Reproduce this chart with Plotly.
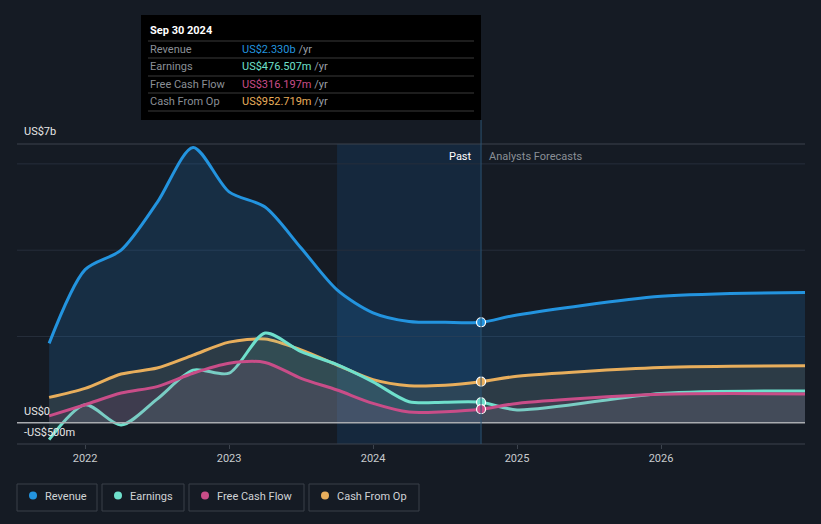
import plotly.graph_objects as go

# ---------------- data ----------------
past_x = [2021.75, 2022.0, 2022.25, 2022.5, 2022.75, 2023.0, 2023.25, 2023.5,
          2023.75, 2024.0, 2024.25, 2024.5, 2024.75]
fc_x = [2024.75, 2025.0, 2026.0, 2027.0]

revenue_past = [1.84, 3.55, 4.0, 5.1, 6.38, 5.35, 5.0, 4.05, 3.08, 2.55, 2.35, 2.33, 2.33]
revenue_fc = [2.33, 2.50, 2.93, 3.02]
earnings_past = [-0.39, 0.42, -0.05, 0.55, 1.22, 1.15, 2.08, 1.65, 1.35, 0.95, 0.49, 0.48, 0.477]
earnings_fc = [0.477, 0.30, 0.68, 0.74]
fcf_past = [0.16, 0.42, 0.69, 0.84, 1.15, 1.38, 1.40, 1.03, 0.76, 0.45, 0.25, 0.26, 0.316]
fcf_fc = [0.316, 0.45, 0.66, 0.67]
cfo_past = [0.59, 0.80, 1.13, 1.27, 1.57, 1.87, 1.94, 1.69, 1.34, 1.0, 0.86, 0.87, 0.953]
cfo_fc = [0.953, 1.08, 1.28, 1.32]

series_names = ["Revenue", "Earnings", "Free Cash Flow", "Cash From Op"]
tooltip_values = ["US$2.330b", "US$476.507m", "US$316.197m", "US$952.719m"]
tooltip_date = "Sep 30 2024"
year_ticks = [2022, 2023, 2024, 2025, 2026]
grid_vals = [2, 4, 6]

# ---------------- style ----------------
BG = "#151b24"
COLORS = {"Revenue": "#2394df", "Earnings": "#6fe0cc", "Free Cash Flow": "#c94d88",
          "Cash From Op": "#e8ae5c"}
FILLS = {"Revenue": "rgba(33,140,230,0.17)", "Earnings": "rgba(110,224,205,0.10)",
         "Free Cash Flow": "rgba(201,77,136,0.12)", "Cash From Op": "rgba(232,174,92,0.10)"}
FONT = "Roboto"

W, H = 821, 524
L, R, T, B = 17, 805, 144, 444
XR = [2021.527, 2027.0]
YR = [-0.49, 6.46]


def px(xp):
    return (xp - L) / (R - L)


def py(yp):
    return (B - yp) / (B - T)


fig = go.Figure()

data = {
    "Revenue": (revenue_past, revenue_fc),
    "Cash From Op": (cfo_past, cfo_fc),
    "Earnings": (earnings_past, earnings_fc),
    "Free Cash Flow": (fcf_past, fcf_fc),
}
for name, (pv, fv) in data.items():
    xs = past_x + fc_x[1:]
    ys = pv + fv[1:]
    fig.add_trace(go.Scatter(
        x=xs, y=ys, mode="lines", line=dict(color=COLORS[name], width=3, shape="spline", smoothing=0.8),
        fill="tozeroy", fillcolor=FILLS[name], hoverinfo="skip", showlegend=False))

# markers at the tooltip date
for name, (pv, fv) in data.items():
    fig.add_trace(go.Scatter(
        x=[past_x[-1]], y=[pv[-1]], mode="markers",
        marker=dict(color=COLORS[name], size=9, line=dict(color="white", width=1.2)),
        hoverinfo="skip", showlegend=False))

shapes = []
# past highlight
shapes.append(dict(type="rect", xref="x", yref="paper", x0=2023.75, x1=2024.75, y0=0, y1=1,
                   fillcolor="rgba(25,118,210,0.15)", line=dict(width=0), layer="below"))
# grid lines
for g in grid_vals:
    shapes.append(dict(type="line", xref="paper", yref="y", x0=0, x1=1, y0=g, y1=g,
                       line=dict(color="#262e3a", width=1), layer="below"))
# top line
shapes.append(dict(type="line", xref="paper", yref="paper", x0=0, x1=1, y0=1, y1=1,
                   line=dict(color="#3c434d", width=1), layer="below"))
# zero line
shapes.append(dict(type="line", xref="paper", yref="y", x0=0, x1=1, y0=0, y1=0,
                   line=dict(color="#a9acb0", width=1.5)))
# bottom line
shapes.append(dict(type="line", xref="paper", yref="paper", x0=0, x1=1, y0=0, y1=0,
                   line=dict(color="#3c434d", width=1)))
# vertical tooltip line
shapes.append(dict(type="line", xref="x", yref="paper", x0=2024.75, x1=2024.75, y0=0, y1=py(120),
                   line=dict(color="#2b5272", width=1)))
# tooltip box
shapes.append(dict(type="rect", xref="paper", yref="paper", x0=px(141), x1=px(481),
                   y0=py(120), y1=py(15), fillcolor="#000000", line=dict(width=0)))
for yy in [41, 58, 76, 93, 111]:
    shapes.append(dict(type="line", xref="paper", yref="paper", x0=px(148), x1=px(474),
                       y0=py(yy), y1=py(yy), line=dict(color="#3a3a3a", width=1)))

annotations = []
annotations.append(dict(xref="paper", yref="paper", x=px(148), y=py(31), text=f"<b>{tooltip_date}</b>",
                        showarrow=False, xanchor="left", yanchor="middle",
                        font=dict(color="#ffffff", size=11, family=FONT)))
for i, (nm, val) in enumerate(zip(series_names, tooltip_values)):
    yy = 49 + i * 17.6
    annotations.append(dict(xref="paper", yref="paper", x=px(148), y=py(yy), text=nm, showarrow=False,
                            xanchor="left", yanchor="middle", font=dict(color="#8a8f96", size=11, family=FONT)))
    annotations.append(dict(xref="paper", yref="paper", x=px(240), y=py(yy),
                            text=f"<span style='color:{COLORS[nm]}'>{val}</span> /yr", showarrow=False,
                            xanchor="left", yanchor="middle", font=dict(color="#9a9fa6", size=11, family=FONT)))

# y labels
for txt, yy in [("US$7b", 131), ("US$0", 411), ("-US$500m", 432)]:
    annotations.append(dict(xref="paper", yref="paper", x=px(22), y=py(yy), text=txt, showarrow=False,
                            xanchor="left", yanchor="middle", font=dict(color="#e6e6e6", size=11, family=FONT)))

annotations.append(dict(xref="x", yref="paper", x=2024.75, y=py(156), xshift=-7, text="Past", showarrow=False,
                        xanchor="right", yanchor="middle", font=dict(color="#ffffff", size=11, family=FONT)))
annotations.append(dict(xref="x", yref="paper", x=2024.75, y=py(156), xshift=6, text="Analysts Forecasts",
                        showarrow=False, xanchor="left", yanchor="middle",
                        font=dict(color="#8a8f96", size=11, family=FONT)))

# legend boxes
leg_boxes = [(17, 97), (102, 184), (189, 304), (309, 419)]
for (x0, x1), nm in zip(leg_boxes, series_names):
    shapes.append(dict(type="rect", xref="paper", yref="paper", x0=px(x0), x1=px(x1), y0=py(511), y1=py(484),
                       fillcolor="rgba(0,0,0,0)", line=dict(color="#3a4049", width=1)))
    shapes.append(dict(type="circle", xref="paper", yref="paper", x0=px(x0 + 12), x1=px(x0 + 20),
                       y0=py(499.5), y1=py(491.5), fillcolor=COLORS[nm], line=dict(width=0)))
    annotations.append(dict(xref="paper", yref="paper", x=px(x0 + 26), y=py(496), text=nm, showarrow=False,
                            xanchor="left", yanchor="middle", font=dict(color="#d0d3d6", size=11, family=FONT)))

fig.update_layout(
    width=W, height=H, margin=dict(l=L, r=W - R, t=T, b=H - B),
    paper_bgcolor=BG, plot_bgcolor=BG, showlegend=False,
    shapes=shapes, annotations=annotations,
    xaxis=dict(range=XR, tickvals=year_ticks, ticktext=[str(y) for y in year_ticks], showgrid=False,
               zeroline=False, showline=False, ticks="outside", ticklen=4, tickcolor="#3c434d",
               tickfont=dict(color="#c8cbce", size=11, family=FONT), fixedrange=True),
    yaxis=dict(range=YR, showgrid=False, zeroline=False, showticklabels=False, fixedrange=True),
)

fig.write_html("out.html", config={"displayModeBar": False},
               post_script="document.body.style.margin='0px';document.body.style.background='#151b24';")
